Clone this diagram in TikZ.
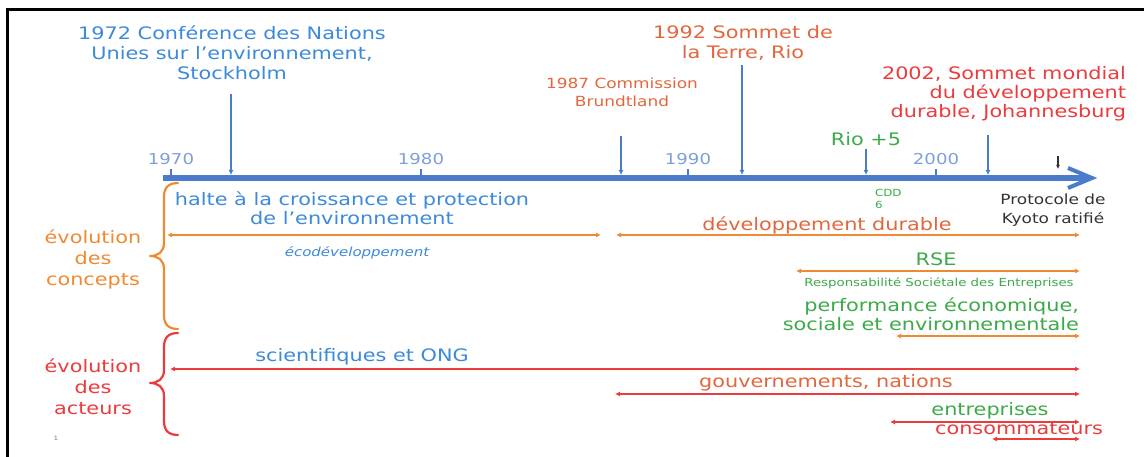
\documentclass[tikz,border=0pt]{standalone}
\usepackage{fontspec}
\setmainfont{DejaVu Sans}[FakeStretch=1.21]
\usetikzlibrary{arrows.meta}
\definecolor{tblue}{HTML}{3C8AD8}
\definecolor{axisblue}{HTML}{4A7CCB}
\definecolor{yearblue}{HTML}{7F9FD8}
\definecolor{corange}{HTML}{F08A32}
\definecolor{orred}{HTML}{E2673E}
\definecolor{cred}{HTML}{EC3B3D}
\definecolor{cgreen}{HTML}{3DAA4A}
\definecolor{kyoto}{HTML}{333333}
\newcommand{\fsz}[2]{\fontsize{#1}{#2}\selectfont}
\begin{document}
\begin{tikzpicture}[x=1pt,y=-1pt,
  lbl/.style={inner sep=0pt, outer sep=0pt, align=center, font=\fsz{17.2}{20}},
  small/.style={inner sep=0pt, outer sep=0pt, align=center, font=\fsz{14}{18}},
  tiny/.style={inner sep=0pt, outer sep=0pt, align=left, font=\fsz{9.8}{12}},
  evarrow/.style={draw=axisblue, line width=2pt, -{Latex[length=5pt,width=5pt]}},
  tick/.style={draw=axisblue, line width=2pt},
  carrow/.style={draw=corange, line width=2pt, {Latex[length=5pt,width=5pt]}-{Latex[length=5pt,width=5pt]}},
  aarrow/.style={draw=cred, line width=2pt, {Latex[length=5pt,width=5pt]}-{Latex[length=5pt,width=5pt]}},
  bracestyle/.style={line width=2.2pt, line cap=round, line join=round}
]
\useasboundingbox (0,0) rectangle (1144,457);
\fill[white] (0,0) rectangle (1144,457);

% frame
\coordinate (fBL) at (7,457);
\coordinate (fTL) at (7,10);
\coordinate (fTR) at (1144,10);
\draw[black, line width=3pt] (fBL) -- (fTL) -- (fTR);

% axis
\coordinate (axL) at (163,178);
\coordinate (axR) at (1092,178);
\coordinate (chA) at (1068,168);
\coordinate (chB) at (1068,188);
\draw[axisblue, line width=6pt] (axL) -- (1088,178);
\draw[axisblue, line width=4pt, line join=miter] (chA) -- (axR) -- (chB);

% years
\foreach \yr/\xx in {1970/171,1980/421,1990/688,2000/936}{
  \coordinate (t\yr a) at (\xx,169);
  \coordinate (t\yr b) at (\xx,176);
  \draw[tick] (t\yr a) -- (t\yr b);
  \node[lbl, text=yearblue, font=\fsz{15}{17}] (y\yr) at (\xx,159) {\yr};
}

% events
\node[lbl, text=tblue] (stk) at (232,53) {1972 Conférence des Nations\\Unies sur l’environnement,\\Stockholm};
\coordinate (stkA) at (231,94); \coordinate (stkB) at (231,175);
\draw[evarrow] (stkA) -- (stkB);

\node[small, text=orred] (bru) at (622,92) {1987 Commission\\Brundtland};
\coordinate (bruA) at (621,136); \coordinate (bruB) at (621,175);
\draw[evarrow] (bruA) -- (bruB);

\node[lbl, text=orred] (rio) at (743,43) {1992 Sommet de\\la Terre, Rio};
\coordinate (rioA) at (742,65); \coordinate (rioB) at (742,175);
\draw[evarrow] (rioA) -- (rioB);

\node[lbl, text=cred, align=right, anchor=east, font=\fsz{17.2}{18.8}] (joh) at (1126,94) {2002, Sommet mondial\\du développement\\durable, Johannesburg};
\coordinate (johA) at (988,135); \coordinate (johB) at (988,175);
\draw[evarrow] (johA) -- (johB);

\node[lbl, text=cgreen] (rio5) at (866,139) {Rio +5};
\coordinate (rio5A) at (866,149); \coordinate (rio5B) at (866,175);
\draw[evarrow] (rio5A) -- (rio5B);

\node[tiny, text=cgreen, anchor=west] (cdd) at (875,199) {CDD\\6};

\coordinate (kyA) at (1058,156); \coordinate (kyB) at (1058,169);
\draw[kyoto, line width=1.2pt, -{Latex[length=4pt,width=4pt]}] (kyA) -- (kyB);
\node[small, text=kyoto, font=\fsz{14}{19}] (kyo) at (1053,210) {Protocole de\\Kyoto ratifié};

% concepts
\node[lbl, text=tblue, font=\fsz{17.2}{19}] (halte) at (352,208) {halte à la croissance et protection\\de l’environnement};
\node[lbl, text=tblue, font=\fsz{12.4}{14}\itshape] (eco) at (357,253) {écodéveloppement};
\coordinate (c1L) at (167,235); \coordinate (c1R) at (601,235);
\draw[carrow] (c1L) -- (c1R);

\node[lbl, text=orred] (dd) at (827,225) {développement durable};
\coordinate (c2L) at (616,235); \coordinate (c2R) at (1080,235);
\draw[carrow] (c2L) -- (c2R);

\node[lbl, text=cgreen] (rse) at (936,259) {RSE};
\coordinate (c3L) at (796,271); \coordinate (c3R) at (1080,271);
\draw[carrow] (c3L) -- (c3R);
\node[tiny, text=cgreen, align=center, font=\fsz{11}{12}] (rsel) at (939,283) {Responsabilité Sociétale des Entreprises};

\node[lbl, text=cgreen, align=right, anchor=east, font=\fsz{17.2}{19}] (perf) at (1079,314) {performance économique,\\sociale et environnementale};
\coordinate (c4L) at (896,336); \coordinate (c4R) at (1080,336);
\draw[carrow] (c4L) -- (c4R);

% actors
\node[lbl, text=tblue] (sci) at (362,357) {scientifiques et ONG};
\coordinate (a1L) at (170,369); \coordinate (a1R) at (1080,369);
\draw[aarrow] (a1L) -- (a1R);

\node[lbl, text=orred] (gouv) at (826,383) {gouvernements, nations};
\coordinate (a2L) at (615,394); \coordinate (a2R) at (1080,394);
\draw[aarrow] (a2L) -- (a2R);

\node[lbl, text=cgreen] (entr) at (990,411) {entreprises};
\coordinate (a3L) at (890,422); \coordinate (a3R) at (1080,422);
\draw[aarrow] (a3L) -- (a3R);

\node[lbl, text=cred] (cons) at (1019,429) {consommateurs};
\coordinate (a4L) at (992,439); \coordinate (a4R) at (1080,439);
\draw[aarrow] (a4L) -- (a4R);

% braces and labels
\node[lbl, text=corange, font=\fsz{17.2}{21}] (evc) at (93,259) {évolution\\des\\concepts};
\node[lbl, text=cred, font=\fsz{17.2}{21}] (eva) at (93,387) {évolution\\des\\acteurs};

\coordinate (bcT) at (178,183); \coordinate (bcM) at (150,256); \coordinate (bcB) at (178,329);
\draw[corange, bracestyle] (bcT) .. controls (168,183) and (164,188) .. (164,197) -- (164,243)
  .. controls (164,252) and (158,256) .. (bcM) .. controls (158,256) and (164,260) .. (164,269)
  -- (164,315) .. controls (164,324) and (168,329) .. (bcB);

\coordinate (baT) at (178,333); \coordinate (baM) at (150,383); \coordinate (baB) at (178,435);
\draw[cred, bracestyle] (baT) .. controls (168,333) and (164,338) .. (164,347) -- (164,370)
  .. controls (164,379) and (158,383) .. (baM) .. controls (158,383) and (164,387) .. (164,396)
  -- (164,421) .. controls (164,430) and (168,435) .. (baB);

\node[inner sep=0pt, text=gray, font=\fsz{6}{7}] (pg) at (56,438) {1};
\end{tikzpicture}
\end{document}
